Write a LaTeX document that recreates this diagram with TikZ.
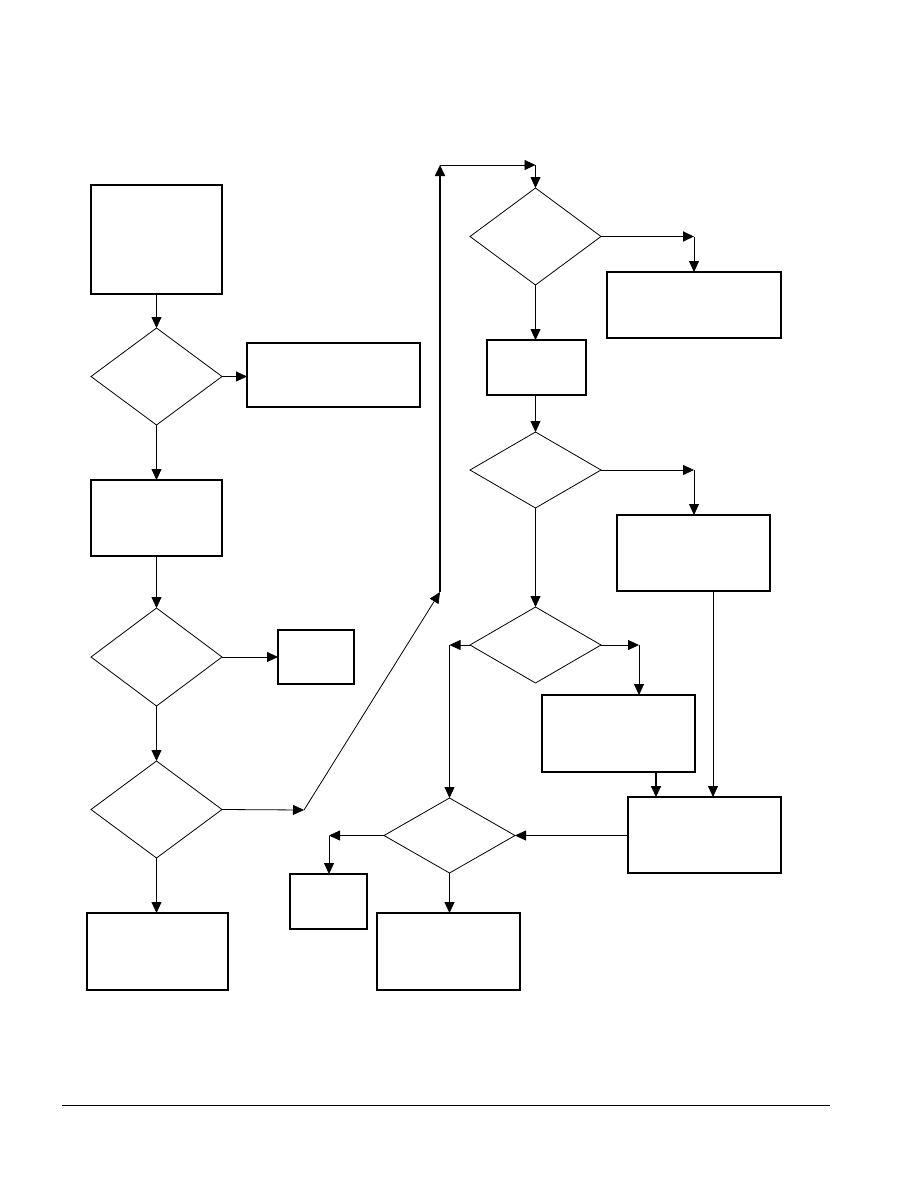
\documentclass[tikz,border=0pt]{standalone}
\usetikzlibrary{arrows.meta,shapes.geometric}
\begin{document}
\begin{tikzpicture}[x=1pt,y=-1pt,
  box/.style={draw,line width=1.1pt,inner sep=0pt,outer sep=0pt},
  heavybox/.style={draw,line width=1.8pt,inner sep=0pt,outer sep=0pt},
  dia/.style={draw,diamond,line width=0.8pt,inner sep=0pt,outer sep=0pt},
  arr/.style={line width=0.8pt,-{Triangle[length=11pt,width=10pt]}},
  heavyarr/.style={line width=1.8pt,-{Triangle[length=11pt,width=10pt]}}]
\useasboundingbox (0,0) rectangle (918,1188);
% left column
\node[heavybox,minimum width=131pt,minimum height=109pt] (A) at (156.5,239.5) {};
\node[dia,minimum width=131pt,minimum height=97pt] (D1) at (156.5,376.5) {};
\node[box,minimum width=173pt,minimum height=64pt] (B) at (333.5,375) {};
\node[box,minimum width=131pt,minimum height=76pt] (C) at (156.5,518) {};
\node[dia,minimum width=131pt,minimum height=98pt] (D2) at (156.5,657) {};
\node[box,minimum width=76pt,minimum height=54pt] (E) at (316,657) {};
\node[dia,minimum width=131pt,minimum height=97pt] (D3) at (156.5,809.5) {};
\node[box,minimum width=141pt,minimum height=77pt] (F) at (157.5,951.5) {};
% right part
\node[dia,minimum width=131pt,minimum height=97pt] (D4) at (535.5,236.5) {};
\node[heavybox,minimum width=174pt,minimum height=66pt] (G) at (694,305) {};
\node[box,minimum width=99pt,minimum height=55pt] (H) at (536.5,367.5) {};
\node[dia,minimum width=131pt,minimum height=76pt] (D5) at (535.5,470) {};
\node[heavybox,minimum width=153pt,minimum height=76pt] (I) at (693.5,553) {};
\node[dia,minimum width=131pt,minimum height=76pt] (D6) at (535.5,645) {};
\node[box,minimum width=153pt,minimum height=77pt] (J) at (618.5,733.5) {};
\node[heavybox,minimum width=153pt,minimum height=76pt] (K) at (704.5,835) {};
\node[dia,minimum width=131pt,minimum height=75pt] (D7) at (449.5,835.5) {};
\node[box,minimum width=77pt,minimum height=55pt] (L) at (328.5,901.5) {};
\node[box,minimum width=143pt,minimum height=77pt] (M) at (448.5,951.5) {};
% helper coordinates
\coordinate (c1) at (304,810);
\coordinate (c2) at (440,592);
\coordinate (c3) at (440,165);
\coordinate (c4) at (535.5,165);
\coordinate (c5) at (694,236.5);
\coordinate (c6) at (694,470);
\coordinate (c7) at (449.5,645);
\coordinate (c8) at (639,645);
\coordinate (c9) at (329,835.5);
\coordinate (j1) at (656,0);
\coordinate (i1) at (713,0);
\coordinate (f1) at (62,1105);
\coordinate (f2) at (830,1105);
% connectors left column
\draw[arr] (A.south) -- (D1.north);
\draw[arr] (D1.east) -- (D1.east -| B.west);
\draw[arr] (D1.south) -- (C.north);
\draw[arr] (C.south) -- (D2.north);
\draw[arr] (D2.east) -- (E.west);
\draw[arr] (D2.south) -- (D3.north);
\draw[arr] (D3.south) -- (D3.south |- F.north);
\draw[arr] (D3.east) -- (c1);
\draw[arr] (c1) -- (c2);
\draw[heavyarr] (c2) -- (c3);
\draw[arr] (c3) -- (c4);
\draw[arr] (c4) -- (D4.north);
% connectors right part
\draw[heavyarr] (D4.east) -- (c5);
\draw[arr] (c5) -- (G.north);
\draw[arr] (D4.south) -- (D4.south |- H.north);
\draw[arr] (H.south -| D5.north) -- (D5.north);
\draw[arr] (D5.east) -- (c6);
\draw[arr] (c6) -- (c6 |- I.north);
\draw[arr] (D5.south) -- (D6.north);
\draw[arr] (D6.west) -- (c7);
\draw[arr] (c7) -- (D7.north);
\draw[arr] (D6.east) -- (c8);
\draw[arr] (c8) -- (c8 |- J.north);
\draw[heavyarr] (j1 |- J.south) -- (j1 |- K.north);
\draw[arr] (i1 |- I.south) -- (i1 |- K.north);
\draw[arr] (K.west |- D7.east) -- (D7.east);
\draw[arr] (D7.west) -- (c9);
\draw[arr] (c9) -- (c9 |- L.north);
\draw[arr] (D7.south) -- (D7.south |- M.north);
% footer rule
\draw[line width=1pt] (f1) -- (f2);
\end{tikzpicture}
\end{document}
